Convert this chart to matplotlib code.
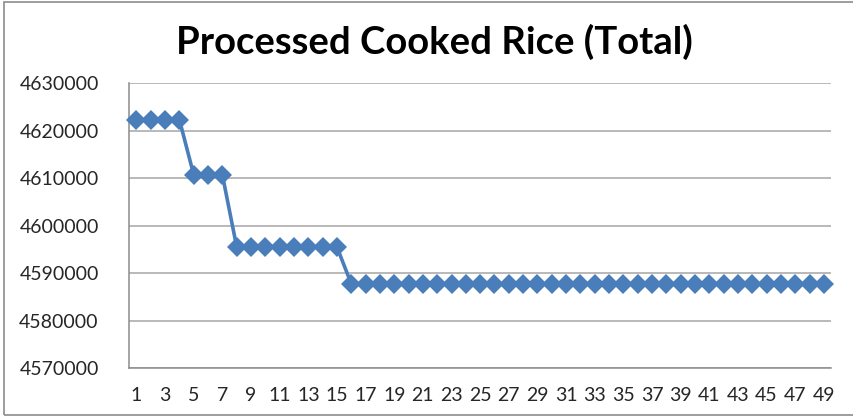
import matplotlib
matplotlib.use("Agg")
import matplotlib.pyplot as plt
from matplotlib.patches import Rectangle

x_values = list(range(1, 50))
y_values = ([4622300] * 4 + [4610700] * 3 + [4595500] * 8 + [4587750] * 34)
x_tick_labels = [str(i) for i in range(1, 50, 2)]
y_ticks = [4570000, 4580000, 4590000, 4600000, 4610000, 4620000, 4630000]
title = "Processed Cooked Rice (Total)"

plt.rcParams['font.family'] = ['Lato', 'DejaVu Sans']

fig = plt.figure(figsize=(8.54, 4.16), dpi=100)
fig.patches.append(Rectangle((4/854, 1 - 415/416), 1.2, (415 - 2) / 416,
                             transform=fig.transFigure, fill=False,
                             edgecolor='#8c8c8c', linewidth=1.2))
ax = fig.add_axes([129.3/854, 1 - 368/416, (831 - 129.3)/854, (368 - 83.3)/416])

ax.plot(x_values, y_values, color='#4A7EBB', linewidth=2.6, marker='D',
        markersize=10.5, markeredgewidth=0, markerfacecolor='#4A7EBB', clip_on=False, zorder=3)

ax.set_xlim(0.5, 49.5)
ax.set_ylim(4570000, 4630000)
ax.set_yticks(y_ticks)
ax.set_yticklabels([str(v) for v in y_ticks], fontsize=14, color='#262626')
ax.set_xticks(list(range(1, 50, 2)))
ax.set_xticklabels(x_tick_labels, fontsize=14, color='#262626')
ax.tick_params(axis='both', length=0)
ax.tick_params(axis='y', pad=22)
ax.tick_params(axis='x', pad=14)
ax.grid(axis='y', color='#a6a6a6', linewidth=1.1)
ax.set_axisbelow(True)
for s in ['top', 'right']:
    ax.spines[s].set_visible(False)
for s in ['left', 'bottom']:
    ax.spines[s].set_color('#8c8c8c')
    ax.spines[s].set_linewidth(1.1)

fig.text(434/854, 1 - 42/416, title, ha='center', va='center', fontsize=27.5,
         fontweight='bold', color='black')

fig.savefig('out.png', dpi=100)
